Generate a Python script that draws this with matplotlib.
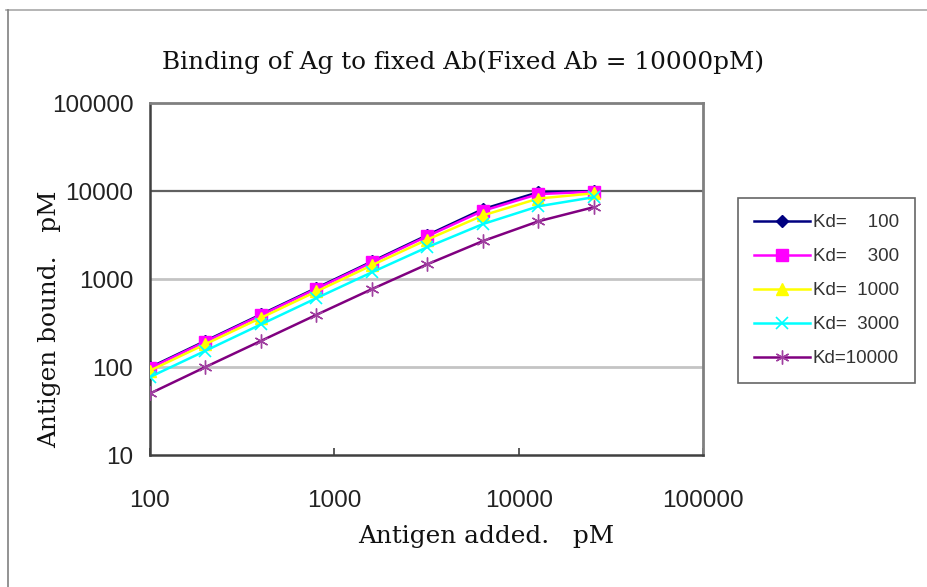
import matplotlib.pyplot as plt
from matplotlib.lines import Line2D

plt.rcParams["font.family"] = ["Liberation Sans", "DejaVu Sans"]

# Antigen added (pM)
ag_added = [100, 200, 400, 800, 1600, 3200, 6400, 12800, 25600]

# Antigen bound (pM), one list per Kd
bound_kd100 = [99, 198, 396, 791, 1581, 3154, 6227, 9689, 9937]
bound_kd300 = [97, 194, 388, 775, 1545, 3067, 5958, 9226, 9813]
bound_kd1000 = [91, 182, 362, 722, 1433, 2809, 5281, 8211, 9418]
bound_kd3000 = [77, 153, 305, 606, 1193, 2303, 4214, 6702, 8507]
bound_kd10000 = [50, 100, 198, 392, 768, 1473, 2700, 4527, 6557]

labels = ["Kd=    100", "Kd=    300", "Kd=  1000", "Kd=  3000", "Kd=10000"]

fig = plt.figure(figsize=(9.28, 5.87), dpi=100)
ax = fig.add_axes([150 / 928, 1 - 455 / 587, 553 / 928, 352 / 587])

# outer chart frame (top and left edges visible)
fig.add_artist(Line2D([6 / 928, 1], [1 - 10 / 587, 1 - 10 / 587], transform=fig.transFigure, color="#a8a8a8", lw=1.2))
fig.add_artist(Line2D([8 / 928, 8 / 928], [0, 1 - 10 / 587], transform=fig.transFigure, color="#808080", lw=1.2))

# grid lines
ax.axhline(100, color="#c4c4c4", lw=2, zorder=1)
ax.axhline(1000, color="#c4c4c4", lw=2, zorder=1)
ax.axhline(10000, color="#606060", lw=1.6, zorder=1)

ax.plot(ag_added, bound_kd100, color="#000080", lw=1.8, marker="D", ms=6, label=labels[0], zorder=3)
ax.plot(ag_added, bound_kd300, color="#ff00ff", lw=1.8, marker="s", ms=9, label=labels[1], zorder=3)
ax.plot(ag_added, bound_kd1000, color="#ffff00", lw=1.8, marker="^", ms=9, label=labels[2], zorder=3)
ax.plot(ag_added, bound_kd3000, color="#00ffff", lw=1.8, marker="x", ms=8, mew=1.2, label=labels[3], zorder=3)
ax.plot(ag_added, bound_kd10000, color="#800080", lw=1.8, marker=(6, 2, 0), ms=10, mew=1.0,
        markeredgecolor="#a040a0", label=labels[4], zorder=3)

ax.set_xscale("log")
ax.set_yscale("log")
ax.set_xlim(100, 100000)
ax.set_ylim(10, 100000)
ax.set_xticks([100, 1000, 10000, 100000])
ax.set_xticklabels(["100", "1000", "10000", "100000"])
ax.set_yticks([10, 100, 1000, 10000, 100000])
ax.set_yticklabels(["10", "100", "1000", "10000", "100000"])
ax.minorticks_off()

ax.tick_params(labelsize=17.5, labelcolor="#222222")
ax.tick_params(axis="x", direction="in", length=5, width=1.2, color="#404040", pad=25)
ax.tick_params(axis="y", length=0, pad=12)

for side in ["top", "right"]:
    ax.spines[side].set_color("#808080")
    ax.spines[side].set_linewidth(2)
for side in ["left", "bottom"]:
    ax.spines[side].set_color("#404040")
    ax.spines[side].set_linewidth(1.8)

fig.text(463 / 928, 1 - 62 / 587, "Binding of Ag to fixed Ab(Fixed Ab = 10000pM)",
         family="DejaVu Serif", fontsize=17.8, ha="center", va="center", color="#111111")
fig.text(486 / 928, 1 - 536 / 587, "Antigen added.   pM",
         family="DejaVu Serif", fontsize=17.8, ha="center", va="center", color="#111111")
fig.text(50 / 928, 1 - 319 / 587, "Antigen bound.   pM", rotation=90,
         family="DejaVu Serif", fontsize=17.8, ha="center", va="center", color="#111111")

leg = ax.legend(loc="upper left", bbox_to_anchor=(738 / 928, 1 - 198 / 587), bbox_transform=fig.transFigure,
                frameon=True, fancybox=False, edgecolor="#404040", borderaxespad=0,
                prop={"family": "Liberation Sans", "size": 13.5}, handlelength=3.0, handletextpad=0.15,
                labelspacing=0.9, borderpad=0.85)
leg.get_frame().set_linewidth(1.2)
for t in leg.get_texts():
    t.set_color("#333333")

fig.savefig("out.png", dpi=100)
